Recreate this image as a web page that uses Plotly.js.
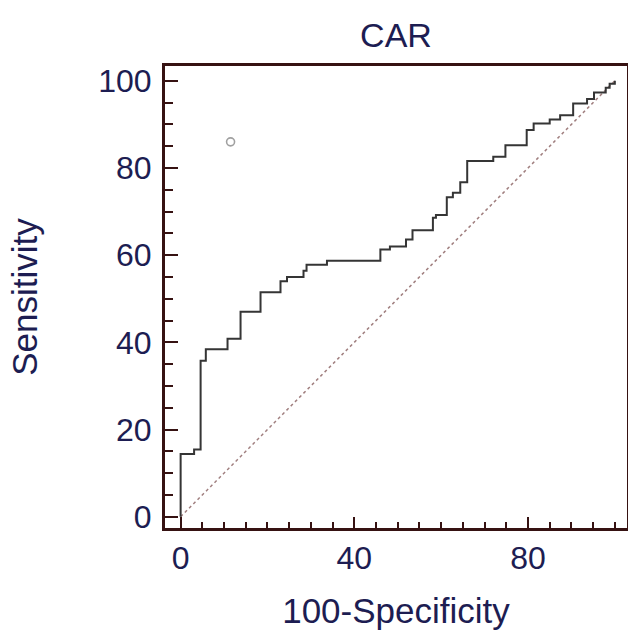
<!DOCTYPE html>
<html>
<head>
<meta charset="utf-8">
<script src="https://cdn.plot.ly/plotly-3.0.1.min.js"></script>
<style>html,body{margin:0;padding:0;background:#fff;}#chart{width:628px;height:634px;}</style>
</head>
<body>
<div id="chart"></div>
<script>
// ROC curve corner points (100-Specificity, Sensitivity)
const fpr = [0, 0, 3.1, 4.6, 5.8, 10.8, 13.8, 18.4, 23.0, 24.5, 28.3, 29.0, 33.7, 46.0, 48.2, 51.9, 53.4, 58.1, 58.8, 61.3, 62.7, 64.4, 66.0, 72.0, 74.8, 79.7, 81.3, 85.0, 87.4, 90.4, 93.6, 95.2, 97.9, 98.8, 100];
const tpr = [0, 14.4, 15.4, 35.8, 38.4, 40.8, 47.0, 51.5, 54.0, 55.0, 56.4, 57.8, 58.7, 61.3, 62.0, 63.6, 65.7, 68.6, 69.2, 73.3, 74.3, 76.7, 81.6, 82.6, 85.2, 88.7, 90.2, 91.1, 92.1, 94.8, 95.8, 97.3, 98.4, 99.3, 100];
// reference diagonal
const diagX = [0, 100];
const diagY = [0, 100];
// criterion point
const pointX = [11.5];
const pointY = [86.0];
const titleText = "CAR";
const xTitle = "100-Specificity";
const yTitle = "Sensitivity";
const tickVals = [0, 20, 40, 60, 80, 100];
const xTickVals = [0, 40, 80];

const frameColor = "#361212";
const labelColor = "#1d1d52";
const fontFam = "Liberation Sans, Arial, sans-serif";

const traces = [
  {x: diagX, y: diagY, mode: "lines", type: "scatter",
   line: {color: "#a07f7f", width: 1.5, dash: "dot"}, hoverinfo: "skip"},
  {x: fpr, y: tpr, mode: "lines", type: "scatter",
   line: {color: "#353535", width: 2, shape: "hv"}},
  {x: pointX, y: pointY, mode: "markers", type: "scatter",
   marker: {symbol: "circle-open", size: 8, color: "#a0a0a0", line: {width: 1.6, color: "#a0a0a0"}}}
];

const layout = {
  width: 628, height: 634,
  margin: {l: 165, r: 1, t: 66, b: 106},
  paper_bgcolor: "#ffffff", plot_bgcolor: "#ffffff",
  showlegend: false,
  font: {family: fontFam, color: labelColor},
  title: {text: titleText, font: {size: 34, color: labelColor, family: fontFam},
          x: 0.5, xref: "paper", xanchor: "center", y: 0.945, yref: "container", yanchor: "middle"},
  xaxis: {
    range: [-3.6, 102.8], tickvals: xTickVals, ticktext: xTickVals.map(String),
    ticks: "inside", ticklen: 11, tickwidth: 2, tickcolor: frameColor,
    minor: {dtick: 5, tick0: 0, ticks: "inside", ticklen: 6, tickwidth: 2, tickcolor: frameColor, showgrid: false},
    showline: true, linecolor: frameColor, linewidth: 3, mirror: true,
    showgrid: false, zeroline: false,
    tickfont: {size: 32, color: labelColor, family: fontFam},
    ticklabelstandoff: 0,
    title: {text: xTitle, font: {size: 35, color: labelColor, family: fontFam}, standoff: 24}
  },
  yaxis: {
    range: [-2.6, 103.4], tickvals: tickVals, ticktext: tickVals.map(String),
    ticks: "inside", ticklen: 13, tickwidth: 2, tickcolor: frameColor,
    minor: {dtick: 5, tick0: 0, ticks: "inside", ticklen: 8, tickwidth: 2, tickcolor: frameColor, showgrid: false},
    showline: true, linecolor: frameColor, linewidth: 3, mirror: true,
    showgrid: false, zeroline: false,
    tickfont: {size: 32, color: labelColor, family: fontFam},
    ticklabelstandoff: 4,
    title: {text: yTitle, font: {size: 35, color: labelColor, family: fontFam}, standoff: 50}
  }
};

Plotly.newPlot("chart", traces, layout, {displayModeBar: false, staticPlot: true});
</script>
</body>
</html>
